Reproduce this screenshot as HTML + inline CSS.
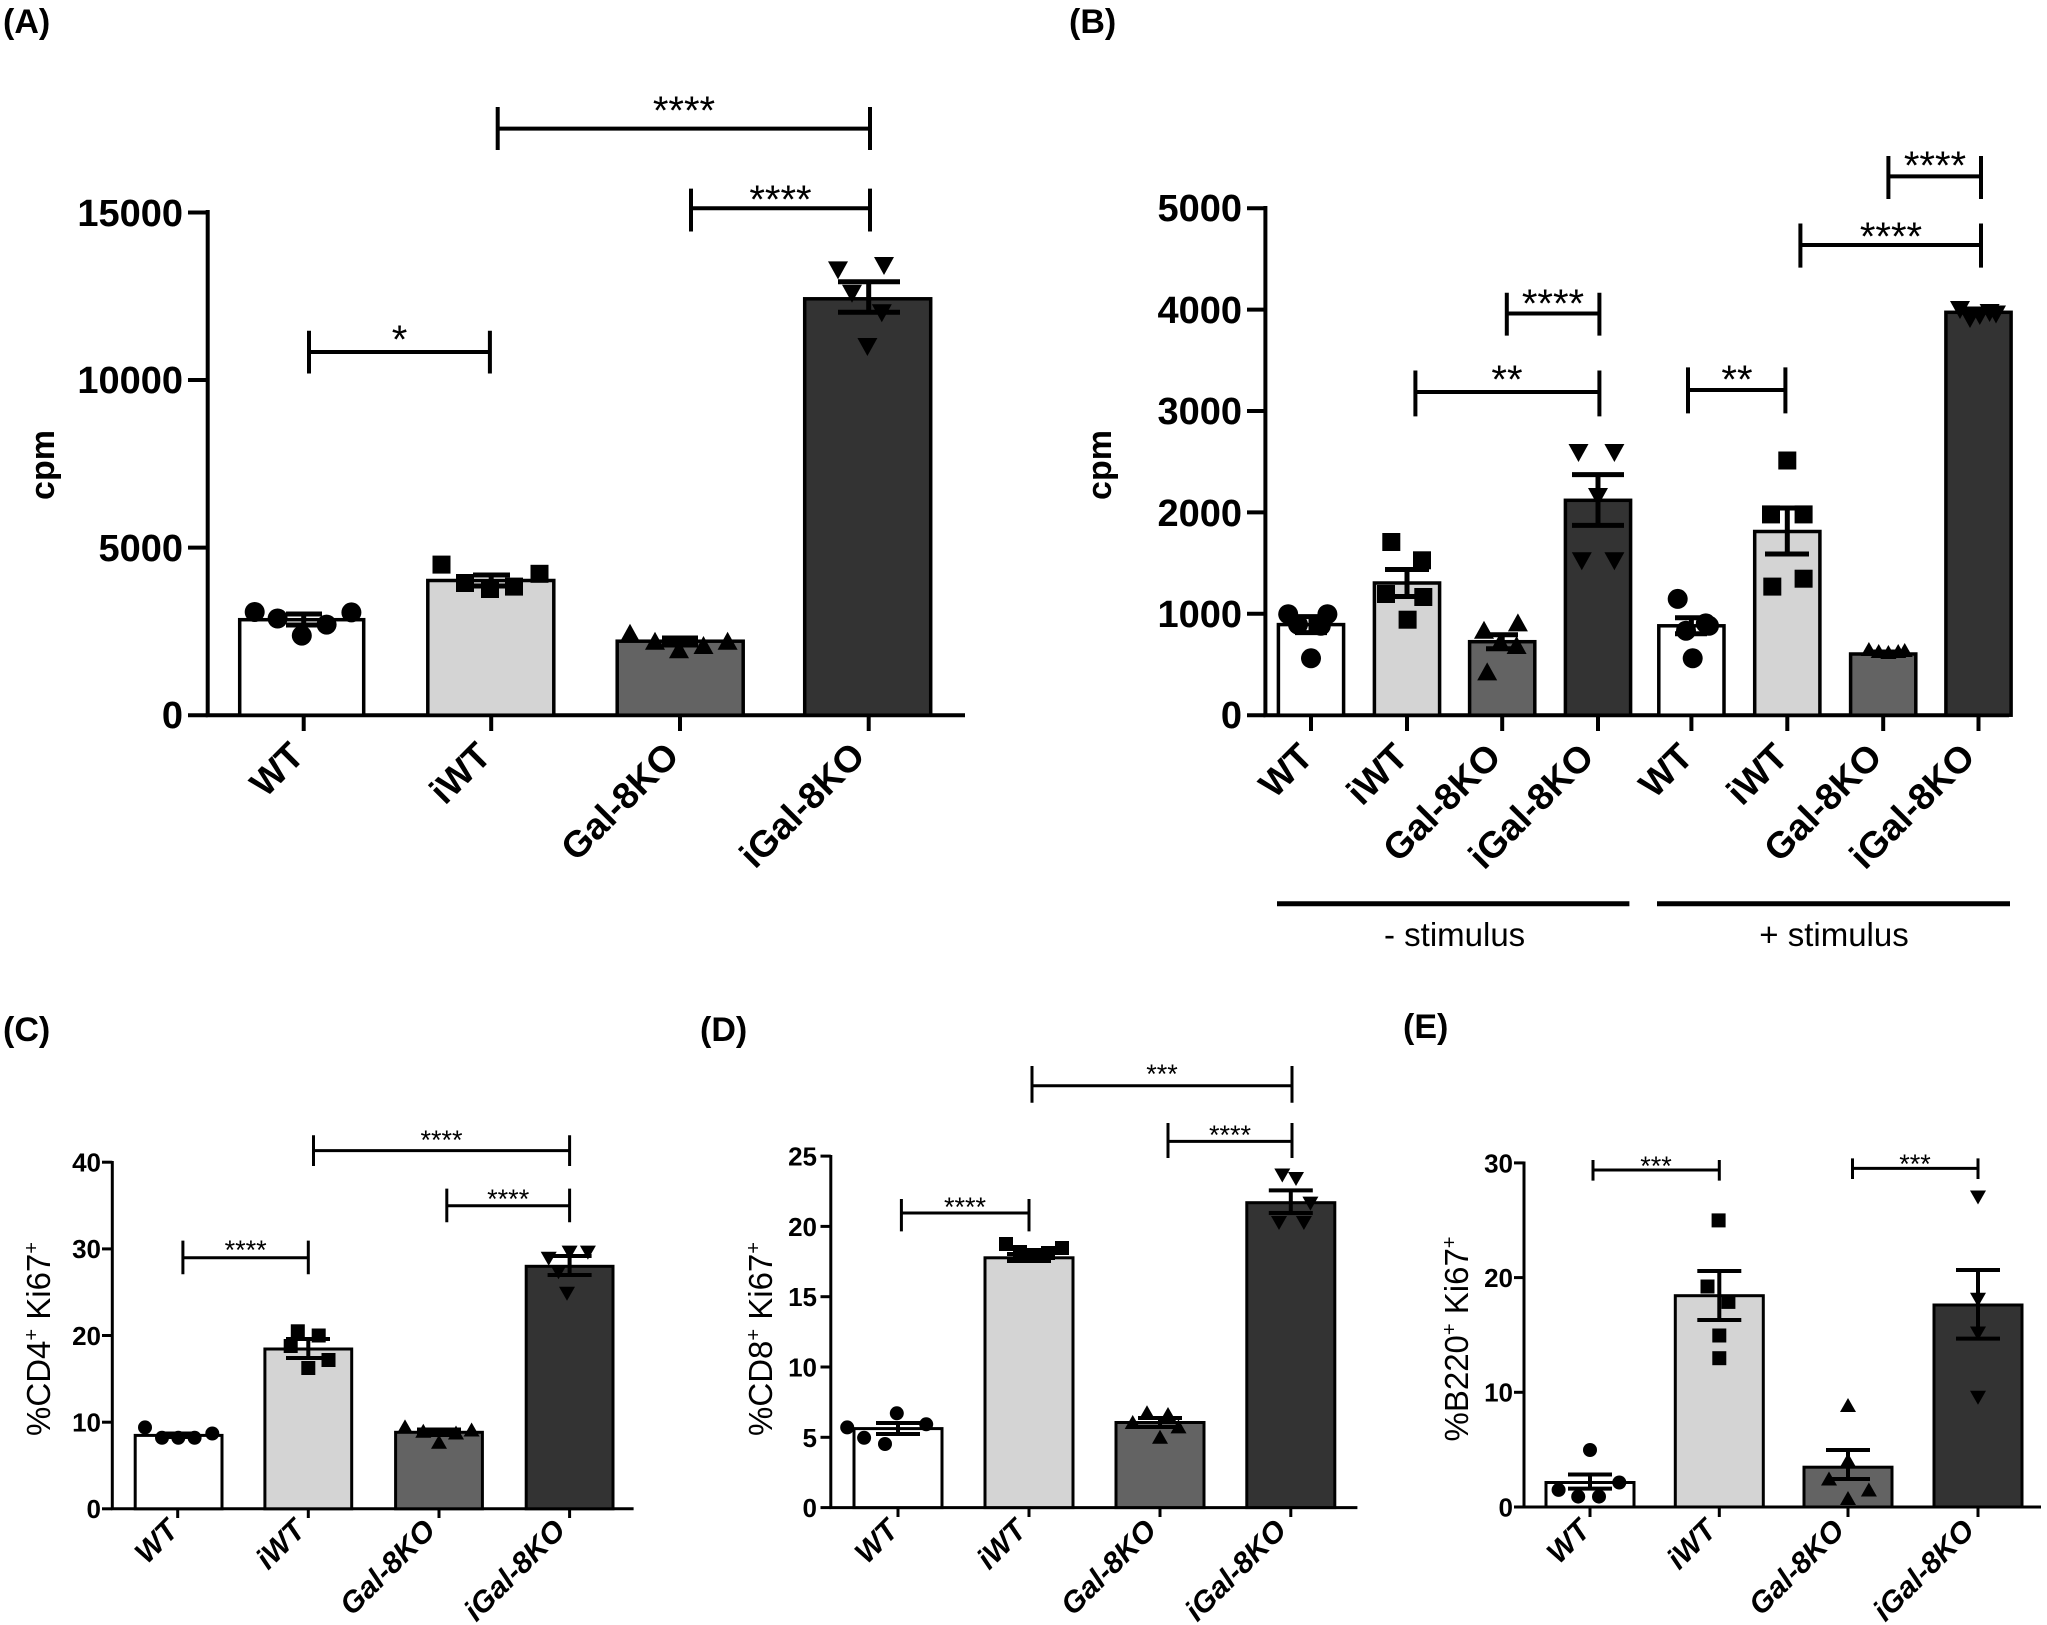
<!DOCTYPE html>
<html><head><meta charset="utf-8"><style>
html,body{margin:0;padding:0;background:#fff;}
svg{display:block;}
text{font-family:"Liberation Sans",Arial,sans-serif;fill:#000;}
.tA{font-size:38px;font-weight:bold;}
.xA{font-size:37px;font-weight:bold;}
.st{font-size:40px;}
.st2{font-size:27px;}
.t2{font-size:26px;font-weight:bold;}
.x2{font-size:30px;font-weight:bold;font-style:italic;}
.yl{font-size:33px;}
.pl{font-size:34px;font-weight:bold;}
</style></head><body>
<svg width="2047" height="1625" viewBox="0 0 2047 1625" xmlns="http://www.w3.org/2000/svg">
<defs>
<path id="tu" d="M0,-10 L10,8 L-10,8Z"/>
<path id="td" d="M0,10 L10,-8 L-10,-8Z"/>
<path id="tu2" d="M0,-8 L8,6 L-8,6Z"/>
<path id="td2" d="M0,8 L8,-6 L-8,-6Z"/>
</defs>

<!-- ===== Panel A ===== -->
<text class="pl" x="3" y="33">(A)</text>
<g stroke="#000" stroke-width="4" fill="none">
<line x1="207.7" y1="210" x2="207.7" y2="717"/>
<line x1="205.7" y1="715.2" x2="965" y2="715.2"/>
<line x1="188" y1="212.5" x2="207.7" y2="212.5"/>
<line x1="188" y1="380" x2="207.7" y2="380"/>
<line x1="188" y1="547.6" x2="207.7" y2="547.6"/>
<line x1="188" y1="715.2" x2="207.7" y2="715.2"/>
<line x1="303.7" y1="715" x2="303.7" y2="731"/>
<line x1="491.2" y1="715" x2="491.2" y2="731"/>
<line x1="680" y1="715" x2="680" y2="731"/>
<line x1="868.7" y1="715" x2="868.7" y2="731"/>
</g>
<g class="tA" text-anchor="end">
<text x="183" y="226">15000</text>
<text x="183" y="393">10000</text>
<text x="183" y="561">5000</text>
<text x="183" y="728">0</text>
</g>
<text x="0" y="0" font-size="34" font-weight="bold" text-anchor="middle" transform="translate(54,465) rotate(-90)">cpm</text>
<g stroke="#000" stroke-width="3.5">
<rect x="239.7" y="619.7" width="124" height="95.5" fill="#fff"/>
<rect x="427.8" y="580.5" width="126" height="134.7" fill="#d4d4d4"/>
<rect x="617.2" y="641.2" width="126" height="74" fill="#636363"/>
<rect x="804.7" y="298.8" width="126" height="416.4" fill="#333333"/>
</g>
<g stroke="#000" stroke-width="5" fill="none">
<path d="M286,614 H322 M303.7,614 V625 M286,625 H322"/>
<path d="M473,575 H510 M491.2,575 V586 M473,586 H510"/>
<path d="M662,638 H698 M680,638 V645 M662,645 H698"/>
<path d="M838,281.7 H900 M868.7,281.7 V312.3 M838,312.3 H900"/>
</g>
<g fill="#000">
<circle cx="254.7" cy="612" r="10"/><circle cx="277.6" cy="618.5" r="10"/><circle cx="301.8" cy="635.6" r="10"/><circle cx="326.6" cy="624.6" r="10"/><circle cx="351.4" cy="612.4" r="10"/>
<rect x="432.5" y="555.6" width="18" height="18"/><rect x="456" y="574" width="18" height="18"/><rect x="481" y="580" width="18" height="18"/><rect x="505" y="577.6" width="18" height="18"/><rect x="530.5" y="564.8" width="18" height="18"/>
<use href="#tu" x="630" y="633.8"/><use href="#tu" x="655" y="641.8"/><use href="#tu" x="679" y="650.3"/><use href="#tu" x="703.5" y="646"/><use href="#tu" x="727.6" y="641.8"/>
<use href="#td" x="838" y="269.4"/><use href="#td" x="884" y="265"/><use href="#td" x="852" y="292.7"/><use href="#td" x="881.8" y="312.3"/><use href="#td" x="867.4" y="346"/>
</g>
<g stroke="#000" stroke-width="4" fill="none">
<path d="M309,330.7 V373.5 M309,352 H489.9 M489.9,330.7 V373.5"/>
<path d="M497.7,107 V150 M497.7,128.6 H870 M870,107 V150"/>
<path d="M691,188.6 V231.5 M691,208.2 H870 M870,188.6 V231.5"/>
</g>
<g class="st" text-anchor="middle">
<text x="399.5" y="353">*</text>
<text x="684" y="124">****</text>
<text x="780.5" y="213">****</text>
</g>
<g class="xA" text-anchor="end">
<text transform="translate(306,758) rotate(-45)">WT</text>
<text transform="translate(493,758) rotate(-45)">iWT</text>
<text transform="translate(681,758) rotate(-45)">Gal-8KO</text>
<text transform="translate(867,758) rotate(-45)">iGal-8KO</text>
</g>

<!-- ===== Panel B ===== -->
<text class="pl" x="1069" y="33">(B)</text>
<g stroke="#000" stroke-width="4" fill="none">
<line x1="1265.4" y1="206" x2="1265.4" y2="717"/>
<line x1="1263.4" y1="715.2" x2="2009" y2="715.2"/>
<line x1="1247" y1="208.2" x2="1265.4" y2="208.2"/>
<line x1="1247" y1="309.6" x2="1265.4" y2="309.6"/>
<line x1="1247" y1="411" x2="1265.4" y2="411"/>
<line x1="1247" y1="512.4" x2="1265.4" y2="512.4"/>
<line x1="1247" y1="613.8" x2="1265.4" y2="613.8"/>
<line x1="1247" y1="715.2" x2="1265.4" y2="715.2"/>
<line x1="1311" y1="715" x2="1311" y2="731"/>
<line x1="1407" y1="715" x2="1407" y2="731"/>
<line x1="1502.2" y1="715" x2="1502.2" y2="731"/>
<line x1="1598" y1="715" x2="1598" y2="731"/>
<line x1="1691.4" y1="715" x2="1691.4" y2="731"/>
<line x1="1787.3" y1="715" x2="1787.3" y2="731"/>
<line x1="1883.2" y1="715" x2="1883.2" y2="731"/>
<line x1="1978.5" y1="715" x2="1978.5" y2="731"/>
</g>
<g class="tA" text-anchor="end" font-size="37">
<text x="1242" y="221">5000</text>
<text x="1242" y="323">4000</text>
<text x="1242" y="424">3000</text>
<text x="1242" y="526">2000</text>
<text x="1242" y="627">1000</text>
<text x="1242" y="728">0</text>
</g>
<text x="0" y="0" font-size="34" font-weight="bold" text-anchor="middle" transform="translate(1111,465) rotate(-90)">cpm</text>
<g stroke="#000" stroke-width="3.5">
<rect x="1278.4" y="624.6" width="65.2" height="90.6" fill="#fff"/>
<rect x="1374.4" y="583" width="65.2" height="132.2" fill="#d4d4d4"/>
<rect x="1469.6" y="641.7" width="65.2" height="73.5" fill="#636363"/>
<rect x="1565.4" y="500.3" width="65.2" height="214.9" fill="#333333"/>
<rect x="1658.8" y="625.8" width="65.2" height="89.4" fill="#fff"/>
<rect x="1754.7" y="531.5" width="65.2" height="183.7" fill="#d4d4d4"/>
<rect x="1850.6" y="654" width="65.2" height="61.2" fill="#636363"/>
<rect x="1945.9" y="312.3" width="65.2" height="402.9" fill="#333333"/>
</g>
<g stroke="#000" stroke-width="5" fill="none">
<path d="M1295,616.6 H1327 M1311,616.6 V632.6 M1295,632.6 H1327"/>
<path d="M1385,569.5 H1429 M1407,569.5 V596.5 M1385,596.5 H1429"/>
<path d="M1486,634.7 H1518 M1502.2,634.7 V648.7 M1486,648.7 H1518"/>
<path d="M1572,474.6 H1624 M1598,474.6 V525.4 M1572,525.4 H1624"/>
<path d="M1675,617.8 H1707 M1691.4,617.8 V633.8 M1675,633.8 H1707"/>
<path d="M1765,508 H1809 M1787.3,508 V554 M1765,554 H1809"/>
<path d="M1870,652 H1896 M1883.2,652 V656"/>
<path d="M1962,309 H1995 M1978.5,309 V315"/>
</g>
<g fill="#000">
<circle cx="1288.2" cy="614.2" r="10"/><circle cx="1327.4" cy="614.2" r="10"/><circle cx="1311" cy="658.3" r="10"/><circle cx="1298" cy="624.6" r="10"/><circle cx="1320.8" cy="625.8" r="10"/>
<rect x="1382.3" y="533" width="18" height="18"/><rect x="1413" y="551.3" width="18" height="18"/><rect x="1377" y="585" width="18" height="18"/><rect x="1398.6" y="610.7" width="18" height="18"/><rect x="1414.3" y="588" width="18" height="18"/>
<use href="#tu" x="1484" y="630.7"/><use href="#tu" x="1517.9" y="623.4"/><use href="#tu" x="1487.2" y="672.4"/><use href="#tu" x="1516.6" y="646"/><use href="#tu" x="1500.3" y="643"/>
<use href="#td" x="1578.5" y="452"/><use href="#td" x="1614.4" y="452"/><use href="#td" x="1581.8" y="560.3"/><use href="#td" x="1614.4" y="560.3"/><use href="#td" x="1598" y="496"/>
<circle cx="1677.7" cy="598.9" r="10"/><circle cx="1692.7" cy="658.3" r="10"/><circle cx="1705.8" cy="623.4" r="10"/><circle cx="1686" cy="630.7" r="10"/><circle cx="1709" cy="625.8" r="10"/>
<rect x="1778.3" y="451.5" width="18" height="18"/><rect x="1762" y="505.4" width="18" height="18"/><rect x="1794.6" y="505.4" width="18" height="18"/><rect x="1763.3" y="577.6" width="18" height="18"/><rect x="1794.6" y="569.7" width="18" height="18"/>
<use href="#tu2" x="1868.9" y="650"/><use href="#tu2" x="1878.7" y="652"/><use href="#tu2" x="1888.4" y="653"/><use href="#tu2" x="1898.2" y="652"/><use href="#tu2" x="1904.7" y="651"/>
<use href="#td" x="1960" y="309"/><use href="#td" x="1970" y="318"/><use href="#td" x="1979.8" y="315"/><use href="#td" x="1989.6" y="312"/><use href="#td" x="1996" y="313.5"/>
</g>
<g stroke="#000" stroke-width="4" fill="none">
<path d="M1506.8,292.7 V335.6 M1506.8,313.5 H1599.4 M1599.4,292.7 V335.6"/>
<path d="M1415.4,370.5 V416.4 M1415.4,392 H1599.4 M1599.4,370.5 V416.4"/>
<path d="M1688,367.4 V413.4 M1688,390 H1785.4 M1785.4,367.4 V413.4"/>
<path d="M1800.4,223.5 V267.6 M1800.4,245 H1981 M1981,223.5 V267.6"/>
<path d="M1888.4,156 V199 M1888.4,176.4 H1981 M1981,156 V199"/>
</g>
<g class="st" text-anchor="middle">
<text x="1553" y="317">****</text>
<text x="1507" y="393">**</text>
<text x="1737" y="393">**</text>
<text x="1891" y="250">****</text>
<text x="1935" y="179">****</text>
</g>
<g class="xA" text-anchor="end">
<text transform="translate(1315,759) rotate(-45)">WT</text>
<text transform="translate(1410,759) rotate(-45)">iWT</text>
<text transform="translate(1503,759) rotate(-45)">Gal-8KO</text>
<text transform="translate(1596,759) rotate(-45)">iGal-8KO</text>
<text transform="translate(1695,759) rotate(-45)">WT</text>
<text transform="translate(1790,759) rotate(-45)">iWT</text>
<text transform="translate(1884,759) rotate(-45)">Gal-8KO</text>
<text transform="translate(1977,759) rotate(-45)">iGal-8KO</text>
</g>
<g stroke="#000" stroke-width="5">
<line x1="1277" y1="903.8" x2="1629.4" y2="903.8"/>
<line x1="1657" y1="903.8" x2="2010" y2="903.8"/>
</g>
<g font-size="33" text-anchor="middle">
<text x="1454.6" y="946">- stimulus</text>
<text x="1834" y="946">+ stimulus</text>
</g>

<!-- ===== Panel C ===== -->
<text class="pl" x="3" y="1041">(C)</text>
<g stroke="#000" stroke-width="3" fill="none">
<line x1="112.3" y1="1161" x2="112.3" y2="1510"/>
<line x1="111" y1="1508.8" x2="633.6" y2="1508.8"/>
<line x1="102" y1="1162.2" x2="112.3" y2="1162.2"/>
<line x1="102" y1="1248.9" x2="112.3" y2="1248.9"/>
<line x1="102" y1="1335.5" x2="112.3" y2="1335.5"/>
<line x1="102" y1="1422.2" x2="112.3" y2="1422.2"/>
<line x1="102" y1="1508.8" x2="112.3" y2="1508.8"/>
<line x1="177.7" y1="1508" x2="177.7" y2="1518"/>
<line x1="308.3" y1="1508" x2="308.3" y2="1518"/>
<line x1="439" y1="1508" x2="439" y2="1518"/>
<line x1="569.6" y1="1508" x2="569.6" y2="1518"/>
</g>
<g class="t2" text-anchor="end">
<text x="101" y="1171.5">40</text>
<text x="101" y="1258">30</text>
<text x="101" y="1345">20</text>
<text x="101" y="1431.5">10</text>
<text x="101" y="1518">0</text>
</g>
<text class="yl" text-anchor="middle" transform="translate(50,1339) rotate(-90)">%CD4<tspan font-size="20" dy="-12">+</tspan><tspan dy="12"> Ki67</tspan><tspan font-size="20" dy="-12">+</tspan></text>
<g stroke="#000" stroke-width="3">
<rect x="135.2" y="1435.4" width="86.8" height="73.4" fill="#fff"/>
<rect x="264.9" y="1349" width="86.8" height="159.8" fill="#d4d4d4"/>
<rect x="395.6" y="1432.3" width="86.8" height="76.5" fill="#636363"/>
<rect x="526.2" y="1266.3" width="86.8" height="242.5" fill="#333333"/>
</g>
<g stroke="#000" stroke-width="4" fill="none">
<path d="M160,1433.5 H196 M160,1437 H196"/>
<path d="M286,1339 H330 M308.3,1339 V1358 M286,1358 H330"/>
<path d="M417,1429.5 H461 M439,1429.5 V1435 M417,1435 H461"/>
<path d="M547.6,1256 H591.6 M569.6,1256 V1275 M547.6,1275 H591.6"/>
</g>
<g fill="#000">
<circle cx="145" cy="1427.4" r="7"/><circle cx="162" cy="1437.8" r="7"/><circle cx="178.3" cy="1437.8" r="7"/><circle cx="194.6" cy="1437.8" r="7"/><circle cx="212.3" cy="1433.5" r="7"/>
<rect x="290.8" y="1324.3" width="14" height="14"/><rect x="311.7" y="1328.5" width="14" height="14"/><rect x="283.7" y="1339" width="14" height="14"/><rect x="321.5" y="1353" width="14" height="14"/><rect x="301.3" y="1361" width="14" height="14"/>
<use href="#tu2" x="405" y="1427.4"/><use href="#tu2" x="423.3" y="1431.7"/><use href="#tu2" x="439" y="1442.7"/><use href="#tu2" x="456" y="1433.5"/><use href="#tu2" x="471.6" y="1430.5"/>
<use href="#td2" x="548.7" y="1257.8"/><use href="#td2" x="569.6" y="1251.6"/><use href="#td2" x="587.9" y="1251.6"/><use href="#td2" x="567" y="1292.7"/><use href="#td2" x="558.5" y="1271.3"/>
</g>
<g stroke="#000" stroke-width="3" fill="none">
<path d="M182.9,1240.6 V1274.3 M182.9,1257.8 H308.3 M308.3,1240.6 V1274.3"/>
<path d="M313.5,1135.3 V1166 M313.5,1150.6 H569.6 M569.6,1135.3 V1166"/>
<path d="M446.8,1188.6 V1222.3 M446.8,1205.7 H569.6 M569.6,1188.6 V1222.3"/>
</g>
<g class="st2" text-anchor="middle">
<text x="245.6" y="1259">****</text>
<text x="441.5" y="1149">****</text>
<text x="508.2" y="1208">****</text>
</g>
<g class="x2" text-anchor="end">
<text transform="translate(180,1532) rotate(-45)">WT</text>
<text transform="translate(307,1532) rotate(-45)">iWT</text>
<text transform="translate(437,1532) rotate(-45)">Gal-8KO</text>
<text transform="translate(567,1532) rotate(-45)">iGal-8KO</text>
</g>

<!-- ===== Panel D ===== -->
<text class="pl" x="700" y="1041">(D)</text>
<g stroke="#000" stroke-width="3" fill="none">
<line x1="830.8" y1="1155" x2="830.8" y2="1509"/>
<line x1="829.5" y1="1507.6" x2="1357.4" y2="1507.6"/>
<line x1="820.5" y1="1156.1" x2="830.8" y2="1156.1"/>
<line x1="820.5" y1="1226.4" x2="830.8" y2="1226.4"/>
<line x1="820.5" y1="1296.7" x2="830.8" y2="1296.7"/>
<line x1="820.5" y1="1367" x2="830.8" y2="1367"/>
<line x1="820.5" y1="1437.3" x2="830.8" y2="1437.3"/>
<line x1="820.5" y1="1507.6" x2="830.8" y2="1507.6"/>
<line x1="898" y1="1507" x2="898" y2="1517"/>
<line x1="1029" y1="1507" x2="1029" y2="1517"/>
<line x1="1160" y1="1507" x2="1160" y2="1517"/>
<line x1="1290.8" y1="1507" x2="1290.8" y2="1517"/>
</g>
<g class="t2" text-anchor="end">
<text x="817" y="1165.5">25</text>
<text x="817" y="1236">20</text>
<text x="817" y="1306">15</text>
<text x="817" y="1376.5">10</text>
<text x="817" y="1447">5</text>
<text x="817" y="1517">0</text>
</g>
<text class="yl" text-anchor="middle" transform="translate(772,1339) rotate(-90)">%CD8<tspan font-size="20" dy="-12">+</tspan><tspan dy="12"> Ki67</tspan><tspan font-size="20" dy="-12">+</tspan></text>
<g stroke="#000" stroke-width="3">
<rect x="854" y="1428.6" width="88" height="79" fill="#fff"/>
<rect x="985" y="1257.8" width="88" height="249.8" fill="#d4d4d4"/>
<rect x="1116" y="1422.5" width="88" height="85.1" fill="#636363"/>
<rect x="1246.8" y="1202.7" width="88" height="304.9" fill="#333333"/>
</g>
<g stroke="#000" stroke-width="4" fill="none">
<path d="M876,1423 H920 M898,1423 V1434 M876,1434 H920"/>
<path d="M1007,1254 H1051 M1029,1254 V1261 M1007,1261 H1051"/>
<path d="M1138,1418 H1182 M1160,1418 V1427 M1138,1427 H1182"/>
<path d="M1268.8,1190.4 H1312.8 M1290.8,1190.4 V1213 M1268.8,1213 H1312.8"/>
</g>
<g fill="#000">
<circle cx="847.2" cy="1427.4" r="7"/><circle cx="864.1" cy="1437.8" r="7"/><circle cx="885" cy="1444" r="7"/><circle cx="896.8" cy="1413.3" r="7"/><circle cx="926.2" cy="1424.3" r="7"/>
<rect x="999" y="1237" width="14" height="14"/><rect x="1013" y="1245" width="14" height="14"/><rect x="1027" y="1248" width="14" height="14"/><rect x="1041" y="1246" width="14" height="14"/><rect x="1055" y="1241" width="14" height="14"/>
<use href="#tu2" x="1147" y="1413.3"/><use href="#tu2" x="1168" y="1415"/><use href="#tu2" x="1132.7" y="1423"/><use href="#tu2" x="1178.5" y="1427.4"/><use href="#tu2" x="1160" y="1437.8"/>
<use href="#td2" x="1282.3" y="1174.5"/><use href="#td2" x="1296" y="1178"/><use href="#td2" x="1279" y="1222"/><use href="#td2" x="1303.9" y="1222"/><use href="#td2" x="1310.4" y="1202.6"/>
</g>
<g stroke="#000" stroke-width="3" fill="none">
<path d="M901.4,1199 V1231.4 M901.4,1213 H1029 M1029,1199 V1231.4"/>
<path d="M1032,1066 V1102.8 M1032,1085.7 H1292 M1292,1066 V1102.8"/>
<path d="M1168,1123 V1158 M1168,1141.4 H1292 M1292,1123 V1158"/>
</g>
<g class="st2" text-anchor="middle">
<text x="965" y="1216">****</text>
<text x="1162" y="1083">***</text>
<text x="1230" y="1144">****</text>
</g>
<g class="x2" text-anchor="end">
<text transform="translate(900,1532) rotate(-45)">WT</text>
<text transform="translate(1028,1532) rotate(-45)">iWT</text>
<text transform="translate(1158,1532) rotate(-45)">Gal-8KO</text>
<text transform="translate(1288,1532) rotate(-45)">iGal-8KO</text>
</g>

<!-- ===== Panel E ===== -->
<text class="pl" x="1403" y="1038">(E)</text>
<g stroke="#000" stroke-width="3" fill="none">
<line x1="1524" y1="1161.5" x2="1524" y2="1508.5"/>
<line x1="1522.5" y1="1507" x2="2041" y2="1507"/>
<line x1="1514" y1="1162.9" x2="1524" y2="1162.9"/>
<line x1="1514" y1="1277.6" x2="1524" y2="1277.6"/>
<line x1="1514" y1="1392.3" x2="1524" y2="1392.3"/>
<line x1="1514" y1="1507" x2="1524" y2="1507"/>
<line x1="1590" y1="1506" x2="1590" y2="1517"/>
<line x1="1719.3" y1="1506" x2="1719.3" y2="1517"/>
<line x1="1848" y1="1506" x2="1848" y2="1517"/>
<line x1="1978" y1="1506" x2="1978" y2="1517"/>
</g>
<g class="t2" text-anchor="end">
<text x="1513" y="1172.3">30</text>
<text x="1513" y="1287">20</text>
<text x="1513" y="1401.7">10</text>
<text x="1513" y="1516.4">0</text>
</g>
<text class="yl" text-anchor="middle" transform="translate(1468,1339) rotate(-90)">%B220<tspan font-size="20" dy="-12">+</tspan><tspan dy="12"> Ki67</tspan><tspan font-size="20" dy="-12">+</tspan></text>
<g stroke="#000" stroke-width="3">
<rect x="1546" y="1482.5" width="88" height="24.5" fill="#fff"/>
<rect x="1675.3" y="1295.7" width="88" height="211.3" fill="#d4d4d4"/>
<rect x="1804" y="1467.2" width="88" height="39.8" fill="#636363"/>
<rect x="1934" y="1305" width="88" height="202" fill="#333333"/>
</g>
<g stroke="#000" stroke-width="4" fill="none">
<path d="M1568,1474.5 H1612 M1590,1474.5 V1488.6 M1568,1488.6 H1612"/>
<path d="M1697.3,1271 H1741.3 M1719.3,1271 V1320 M1697.3,1320 H1741.3"/>
<path d="M1826,1450 H1870 M1848,1450 V1479 M1826,1479 H1870"/>
<path d="M1956,1270 H2000 M1978,1270 V1338.6 M1956,1338.6 H2000"/>
</g>
<g fill="#000">
<circle cx="1590" cy="1450" r="7"/><circle cx="1558.6" cy="1489.9" r="7"/><circle cx="1578.2" cy="1496.6" r="7"/><circle cx="1599" cy="1496.6" r="7"/><circle cx="1619.3" cy="1482.5" r="7"/>
<rect x="1711.6" y="1213.4" width="14" height="14"/><rect x="1700.5" y="1279.5" width="14" height="14"/><rect x="1721.4" y="1294.9" width="14" height="14"/><rect x="1712.3" y="1328.5" width="14" height="14"/><rect x="1712.3" y="1351.2" width="14" height="14"/>
<use href="#tu2" x="1848" y="1406"/><use href="#tu2" x="1829" y="1479.5"/><use href="#tu2" x="1868.9" y="1490.5"/><use href="#tu2" x="1848" y="1499"/><use href="#tu2" x="1848" y="1461"/>
<use href="#td2" x="1978" y="1196.5"/><use href="#td2" x="1978" y="1298.8"/><use href="#td2" x="1978" y="1332.5"/><use href="#td2" x="1978" y="1396.8"/>
</g>
<g stroke="#000" stroke-width="3" fill="none">
<path d="M1593,1160 V1180.6 M1593,1170 H1719.3 M1719.3,1160 V1180.6"/>
<path d="M1852.5,1158.4 V1179 M1852.5,1168.4 H1978 M1978,1158.4 V1179"/>
</g>
<g class="st2" text-anchor="middle">
<text x="1656" y="1175">***</text>
<text x="1915" y="1173">***</text>
</g>
<g class="x2" text-anchor="end">
<text transform="translate(1592,1532) rotate(-45)">WT</text>
<text transform="translate(1718,1532) rotate(-45)">iWT</text>
<text transform="translate(1846,1532) rotate(-45)">Gal-8KO</text>
<text transform="translate(1976,1532) rotate(-45)">iGal-8KO</text>
</g>
</svg>
</body></html>
